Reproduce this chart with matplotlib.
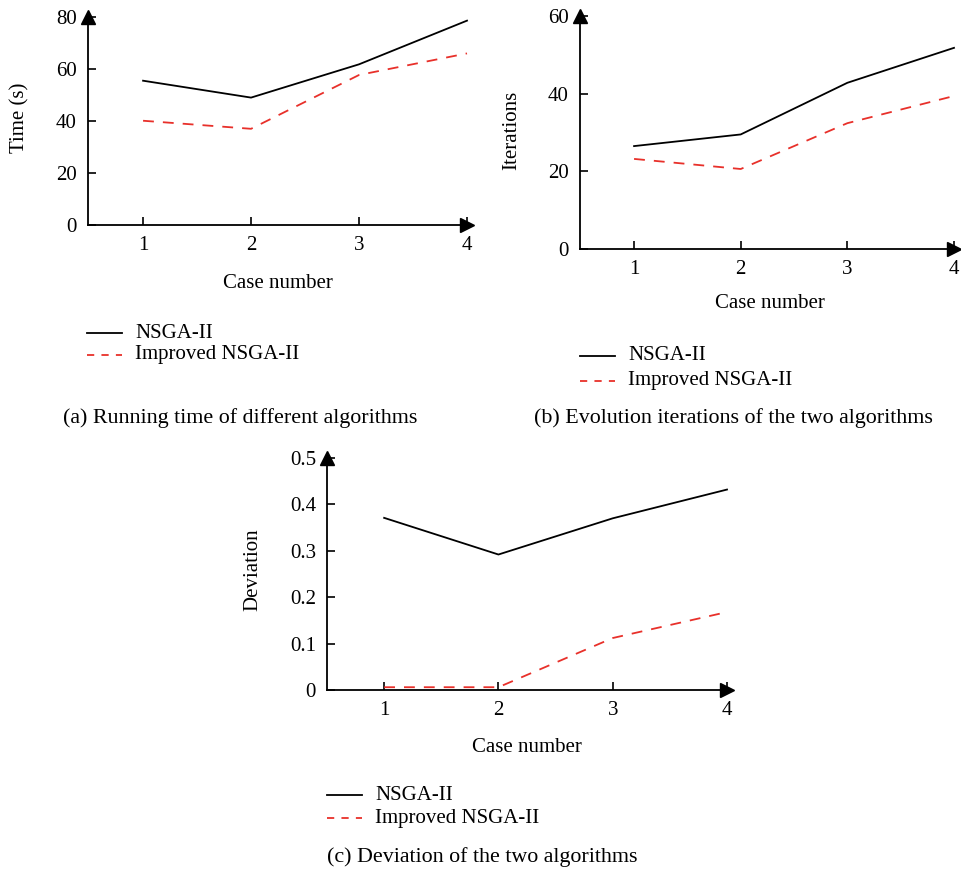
import matplotlib
matplotlib.use("Agg")
import matplotlib.pyplot as plt
from matplotlib.lines import Line2D

plt.rcParams['font.family'] = ['Liberation Serif', 'DejaVu Serif']
plt.rcParams['font.size'] = 15

cases = [1, 2, 3, 4]

# (a) running time (s)
time_nsga = [55.5, 49.0, 61.8, 78.6]
time_improved = [40.1, 37.0, 57.7, 66.0]

# (b) evolution iterations
iter_nsga = [26.5, 29.5, 42.8, 51.8]
iter_improved = [23.2, 20.6, 32.4, 39.4]

# (c) deviation
dev_nsga = [0.371, 0.292, 0.370, 0.432]
dev_improved = [0.006, 0.006, 0.112, 0.168]

series_names = ["NSGA-II", "Improved NSGA-II"]

W, H = 962, 869
fig = plt.figure(figsize=(W / 100, H / 100), dpi=100)


def px_axes(left, top, right, bottom):
    return fig.add_axes([left / W, 1 - bottom / H, (right - left) / W, (bottom - top) / H])


def style_axes(ax, xlim, ylim, yticks, yticklabels):
    ax.set_xlim(*xlim)
    ax.set_ylim(*ylim)
    for s in ["top", "right"]:
        ax.spines[s].set_visible(False)
    for s in ["left", "bottom"]:
        ax.spines[s].set_linewidth(1.3)
    ax.set_xticks(cases)
    ax.set_xticklabels([str(c) for c in cases])
    ax.set_yticks(yticks)
    ax.set_yticklabels(yticklabels)
    ax.tick_params(direction="in", length=6, width=1.2, pad=8)
    # arrow heads at end of axes
    ax.plot(1, 0, ">k", transform=ax.transAxes, clip_on=False, markersize=10)
    ax.plot(0, 1, "^k", transform=ax.transAxes, clip_on=False, markersize=10)


def draw(ax, a, b):
    ax.plot(cases, a, color="black", lw=1.3, clip_on=False)
    ax.plot(cases, b, color="#e8302a", lw=1.3, ls=(0, (6, 5)), clip_on=False)


def legend_at(x, y, dy):
    fig.add_artist(Line2D([x / W, (x + 35) / W], [1 - y / H, 1 - y / H], color="black", lw=1.3))
    fig.add_artist(Line2D([x / W, (x + 35) / W], [1 - (y + dy) / H, 1 - (y + dy) / H],
                          color="#e8302a", lw=1.3, ls=(0, (4, 4))))
    fig.text((x + 48) / W, 1 - y / H, series_names[0], va="center", ha="left")
    fig.text((x + 48) / W, 1 - (y + dy) / H, series_names[1], va="center", ha="left")


cap = 15.8

# panel (a)
ax1 = px_axes(88, 17, 467, 225)
draw(ax1, time_nsga, time_improved)
style_axes(ax1, (0.49, 4.0), (0, 80), [0, 20, 40, 60, 80], ["0", "20", "40", "60", "80"])
fig.text(20 / W, 1 - 118 / H, "Time (s)", rotation=90, ha="center", va="center")
fig.text(278 / W, 1 - 284 / H, "Case number", ha="center", va="center")
legend_at(87, 333, 22)
fig.text(240 / W, 1 - 418 / H, "(a) Running time of different algorithms",
         ha="center", va="center", fontsize=cap)

# panel (b)
ax2 = px_axes(580, 16, 954, 249)
draw(ax2, iter_nsga, iter_improved)
style_axes(ax2, (0.493, 4.0), (0, 60), [0, 20, 40, 60], ["0", "20", "40", "60"])
fig.text(512 / W, 1 - 130 / H, "Iterations", rotation=90, ha="center", va="center")
fig.text(770 / W, 1 - 304 / H, "Case number", ha="center", va="center")
legend_at(580, 356, 25)
fig.text(733 / W, 1 - 418 / H, "(b) Evolution iterations of the two algorithms",
         ha="center", va="center", fontsize=cap)

# panel (c)
ax3 = px_axes(327, 458, 727, 690)
draw(ax3, dev_nsga, dev_improved)
style_axes(ax3, (0.5, 4.0), (0, 0.5), [0, 0.1, 0.2, 0.3, 0.4, 0.5],
           ["0", "0.1", "0.2", "0.3", "0.4", "0.5"])
fig.text(253 / W, 1 - 570 / H, "Deviation", rotation=90, ha="center", va="center")
fig.text(527 / W, 1 - 747 / H, "Case number", ha="center", va="center")
legend_at(327, 795, 23)
fig.text(482 / W, 1 - 857 / H, "(c) Deviation of the two algorithms",
         ha="center", va="center", fontsize=cap)

fig.savefig("out.png", dpi=100)
